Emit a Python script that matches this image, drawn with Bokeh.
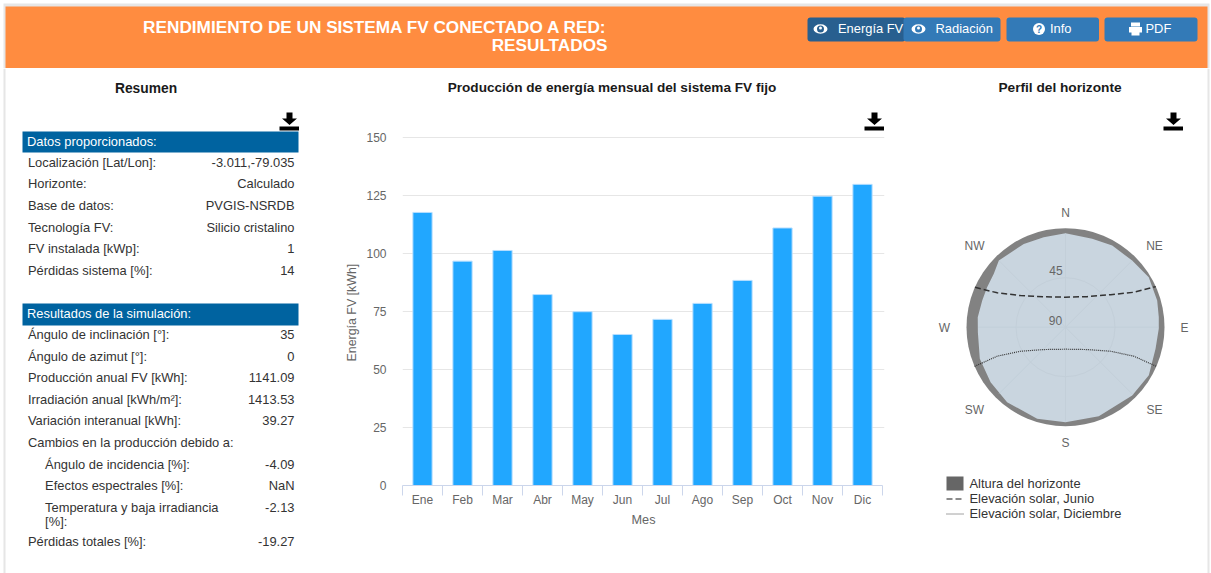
import numpy as np
from bokeh.embed import file_html
from bokeh.resources import INLINE
from bokeh.plotting import figure
from bokeh.layouts import column, row
from bokeh.models import Range1d, FixedTicker, Title
from bokeh.core.properties import value

# ---- data ----
months = ["Ene", "Feb", "Mar", "Abr", "May", "Jun", "Jul", "Ago", "Sep", "Oct", "Nov", "Dic"]
energy = [117.7, 96.7, 101.3, 82.3, 74.9, 65.1, 71.6, 78.5, 88.4, 111.0, 124.7, 129.8]
y_ticks = [0, 25, 50, 75, 100, 125, 150]

inputs_title = "Datos proporcionados:"
input_labels = ["Localización [Lat/Lon]:", "Horizonte:", "Base de datos:", "Tecnología FV:",
                "FV instalada [kWp]:", "Pérdidas sistema [%]:"]
input_values = ["-3.011,-79.035", "Calculado", "PVGIS-NSRDB", "Silicio cristalino", "1", "14"]

results_title = "Resultados de la simulación:"
result_labels = ["Ángulo de inclinación [°]:", "Ángulo de azimut [°]:", "Producción anual FV [kWh]:",
                 "Irradiación anual [kWh/m²]:", "Variación interanual [kWh]:",
                 "Cambios en la producción debido a:"]
result_values = ["35", "0", "1141.09", "1413.53", "39.27", ""]
change_labels = ["Ángulo de incidencia [%]:", "Efectos espectrales [%]:", "Temperatura y baja irradiancia"]
change_values = ["-4.09", "NaN", "-2.13"]
change_wrap = "[%]:"
total_label = "Pérdidas totales [%]:"
total_value = "-19.27"

horizon_az = [0, 16.8, 29.8, 45, 59, 73.8, 83.9, 91, 103.5, 120, 135.7, 159.5, 180, 197.2,
              217.9, 233.7, 249.8, 266.7, 276.5, 287.8, 297, 306.7, 315, 333.4, 346.4]
horizon_el = [4.5, 6.0, 4.5, 4.3, 1.7, 3.2, 4.7, 5.2, 5.8, 2.5, 3.2, 3.6, 3.6, 2.8,
              3.6, 5.5, 7.0, 10.2, 9.7, 10.5, 10.0, 8.7, 4.3, 5.3, 5.8]
june_az = [-66.2, -63.3, -54.9, -35.5, 0, 35.3, 54.3, 62.9, 65.8]
june_el = [0, 20.5, 40.0, 56.1, 62.7, 56.0, 39.4, 20.3, 0]
dec_az = [-113.3, -113.0, -118.1, -135.9, 180, 135.9, 118.1, 113.0, 113.3]
dec_el = [0, 22.5, 43.6, 61.7, 70.0, 61.7, 43.6, 22.5, 0]
compass = ["N", "NE", "E", "SE", "S", "SW", "W", "NW"]
legend_labels = ["Altura del horizonte", "Elevación solar, Junio", "Elevación solar, Diciembre"]

FONT = "Liberation Sans"
ORANGE, BLUE, BTN, BTN_ON = "#ff8c40", "#0063a0", "#337ab7", "#285f8f"
BORDER = "#e6e6e6"
BODY = 12.9


def txt(p, x, y, s, size=BODY, color="#333333", bold=False, align="left", angle=0):
    p.text(x=[x], y=[y], text=[s], text_font=value(FONT), text_font_size=f"{size}px",
           text_color=color, text_font_style="bold" if bold else "normal",
           text_align=align, text_baseline="middle", angle=angle)


def page_fig(w, h, x0, y0):
    p = figure(width=w, height=h, x_range=Range1d(x0, x0 + w), y_range=Range1d(y0 + h, y0),
               output_backend="svg", toolbar_location=None, min_border=0, frame_align=False)
    p.axis.visible = False
    p.grid.visible = False
    p.outline_line_color = None
    return p


def download_icon(p, x, fx=lambda v: v, fy=lambda v: v):
    arrow_x = [x + 7, x + 13, x + 13, x + 17.5, x + 10, x + 2.5, x + 7]
    arrow_y = [112, 112, 118, 118, 124.5, 118, 118]
    bar_x = [x, x + 19.5, x + 19.5, x]
    bar_y = [126, 126, 130, 130]
    p.patch(x=[fx(v) for v in arrow_x], y=[fy(v) for v in arrow_y], color="black", line_width=0)
    p.patch(x=[fx(v) for v in bar_x], y=[fy(v) for v in bar_y], color="black", line_width=0)


# ---- header ----
head = page_fig(1211, 68, 0, 0)
head.quad(left=[3], right=[1209], top=[3], bottom=[68], color=BORDER, line_width=0)
head.quad(left=[5], right=[1207], top=[6], bottom=[68], color=ORANGE, line_width=0)
txt(head, 607, 26.6, "RENDIMIENTO DE UN SISTEMA FV CONECTADO A RED:", 17.2, "white", True, "right")
txt(head, 607, 44.6, "RESULTADOS", 17.2, "white", True, "right")
head.quad(left=[807], right=[905], top=[17], bottom=[41], color=BTN_ON, line_width=0, border_radius=3)
head.quad(left=[903], right=[1000], top=[17], bottom=[41], color=BTN, line_width=0, border_radius=3)
head.quad(left=[1006, 1104], right=[1098.5, 1197], top=[17, 17], bottom=[41, 41], color=BTN,
          line_width=0, border_radius=3)
txt(head, 837.5, 27.8, "Energía FV", BODY, "white")
txt(head, 935, 27.8, "Radiación", BODY, "white")
txt(head, 1049.5, 27.8, "Info", BODY, "white")
txt(head, 1145, 27.8, "PDF", BODY, "white")
for cx, bg in ((820, BTN_ON), (918, BTN)):
    head.ellipse(x=[cx], y=[28.5], width=[14], height=[9.5], color="white", line_width=0)
    head.ellipse(x=[cx], y=[28.5], width=[7], height=[7], color=bg, line_width=0)
    head.ellipse(x=[cx], y=[27.5], width=[3], height=[3], color="white", line_width=0)
head.circle(x=[1038.5], y=[28.5], radius=6, color="white", line_width=0)
txt(head, 1038.5, 28.5, "?", 10, BTN, True, "center")
head.quad(left=[1130.5, 1128.5, 1131], right=[1139.5, 1141.5, 1139], top=[22, 26.5, 31.5],
          bottom=[26, 32, 35], color="white", line_width=0)

# ---- left panel ----
left = page_fig(337, 505, 0, 68)
left.quad(left=[3], right=[5], top=[68], bottom=[573], color=BORDER, line_width=0)
txt(left, 145.5, 87.5, "Resumen", 13.8, "#1a1a1a", True, "center")
download_icon(left, 279)
left.quad(left=[22, 22], right=[298, 298], top=[131, 303], bottom=[152, 325], color=BLUE, line_width=0)
txt(left, 26.5, 140.8, inputs_title, BODY, "white")
txt(left, 26.5, 312.8, results_title, BODY, "white")
in_y = 161.8
for i, (a, b) in enumerate(zip(input_labels, input_values)):
    yy = in_y + i * 21.65
    txt(left, 27.4, yy, a)
    txt(left, 294, yy, b, align="right")
res_y = 334
for i, (a, b) in enumerate(zip(result_labels, result_values)):
    yy = res_y + i * 21.6
    txt(left, 27.4, yy, a)
    txt(left, 294, yy, b, align="right")
for i, (a, b) in enumerate(zip(change_labels, change_values)):
    yy = 463.5 + i * 21.6
    txt(left, 44.6, yy, a)
    txt(left, 294, yy, b, align="right")
txt(left, 44.6, 520.5, change_wrap)
txt(left, 27.4, 540.5, total_label)
txt(left, 294, 540.5, total_value, align="right")

# ---- bar chart: its frame reaches up to the header, for its title and icon ----
PX_X, PX_Y = 40.0, 2.32
bar = figure(width=563, height=505, x_range=Range1d(0, 482 / PX_X), y_range=Range1d(0, 417 / PX_Y),
             output_backend="svg", toolbar_location=None, frame_align=False,
             min_border_left=65, min_border_right=16, min_border_top=0, min_border_bottom=88)
bar.outline_line_color = None
bar.xgrid.visible = False
bar.ygrid.ticker = FixedTicker(ticks=y_ticks)
bar.ygrid.grid_line_color = "#e6e6e6"
bar.ygrid.bounds = (0, 12)
centers = [i + 0.5 for i in range(12)]
bar.vbar(x=centers, top=energy, width=0.48, fill_color="#21a7ff", line_color="#b5deff", line_width=1)


def bx(x):
    return (x - 402) / PX_X


def by(y):
    return (485 - y) / PX_Y


txt(bar, bx(611.5), by(86.8), "Producción de energía mensual del sistema FV fijo", 13.6, "#1a1a1a", True, "center")
download_icon(bar, 864, bx, by)

xa = bar.xaxis[0]
xa.ticker = FixedTicker(ticks=centers, minor_ticks=list(range(13)))
xa.bounds = (0, 12)
xa.major_label_overrides = {c: m for c, m in zip(centers, months)}
xa.major_tick_line_color = None
xa.major_tick_in = 0
xa.major_tick_out = 0
xa.minor_tick_in = 0
xa.minor_tick_out = 10
xa.minor_tick_line_color = "#ccd6eb"
xa.axis_line_color = "#ccd6eb"
xa.major_label_standoff = -3
xa.major_label_text_font = FONT
xa.major_label_text_font_size = "12px"
xa.major_label_text_color = "#666666"
xa.axis_label = "Mes"
xa.axis_label_text_font = FONT
xa.axis_label_text_font_size = "12.7px"
xa.axis_label_text_color = "#666666"
xa.axis_label_text_font_style = "normal"
xa.axis_label_standoff = 3
ya = bar.yaxis[0]
ya.ticker = FixedTicker(ticks=y_ticks)
ya.bounds = (0, 150)
ya.axis_line_color = None
ya.major_tick_line_color = None
ya.minor_tick_line_color = None
ya.major_tick_in = 0
ya.major_tick_out = 0
ya.major_label_standoff = 16
ya.major_label_text_font = FONT
ya.major_label_text_font_size = "12px"
ya.major_label_text_color = "#666666"
bar.add_layout(Title(text="Energía FV [kWh]", align="left", offset=124, standoff=10,
                     text_font=FONT, text_font_size="12.4px", text_color="#666666",
                     text_font_style="normal"), "left")

# ---- polar chart: one data unit is one degree of elevation on the sky dome ----
CX, CY, K = 1065.0, 326.7, 99 / 90
W, H = 311, 505
pol = figure(width=W, height=H, x_range=Range1d((900 - CX) / K, (900 + W - CX) / K),
             y_range=Range1d((CY - 573) / K, (CY - 68) / K),
             output_backend="svg", toolbar_location=None, min_border=0, frame_align=False)
pol.axis.visible = False
pol.grid.visible = False
pol.outline_line_color = None


def polar(az, el):
    a = np.radians(np.asarray(az, float))
    r = 90 - np.asarray(el, float)
    return r * np.sin(a), r * np.cos(a)


def px(x):
    return (x - CX) / K


def py(y):
    return (CY - y) / K


pol.quad(left=[px(1207)], right=[px(1209)], top=[py(68)], bottom=[py(573)], color=BORDER, line_width=0)
txt(pol, px(1059.5), py(86.8), "Perfil del horizonte", 13.7, "#1a1a1a", True, "center")
download_icon(pol, 1163, px, py)

pol.circle(x=[0], y=[0], radius=90, fill_color="#828282", line_width=0)
hx, hy = polar(horizon_az, horizon_el)
pol.patch(x=hx, y=hy, fill_color="#c9d5df", line_width=0)
spoke_az = list(range(0, 360, 45))
spoke_el = np.interp(spoke_az, horizon_az + [360], horizon_el + [horizon_el[0]]) + 0.5
sx, sy = polar(spoke_az, spoke_el)
pol.segment(x0=[0] * 8, y0=[0] * 8, x1=sx, y1=sy, line_color="#c3cfd9", line_width=1)
pol.circle(x=[0], y=[0], radius=45, fill_color=None, line_color="#c3cfd9", line_width=1)
jx, jy = polar(june_az, june_el)
pol.line(jx, jy, line_color="#333333", line_width=1.5, line_dash="6 3")
dx, dy = polar(dec_az, dec_el)
pol.line(dx, dy, line_color="#333333", line_width=1.2, line_dash="1 1")

cmp_x = [1065, 1154, 1184, 1154, 1065, 974, 944, 974]
cmp_y = [212, 245, 327, 409, 442, 409, 327, 245]
for s, x, y in zip(compass, cmp_x, cmp_y):
    txt(pol, px(x), py(y), s, 12, "#666666", False, "center")
txt(pol, px(1055.5), py(270), "45", 12, "#666666", False, "center")
txt(pol, px(1055), py(319.5), "90", 12, "#666666", False, "center")

pol.quad(left=[px(946)], right=[px(963)], top=[py(476)], bottom=[py(490)], color="#666666", line_width=0)
pol.line([px(946), px(963)], [py(498.5), py(498.5)], line_color="#666666", line_width=1.5, line_dash="6 3")
pol.line([px(946), px(963)], [py(513.5), py(513.5)], line_color="#444444", line_width=1, line_dash="1 1")
for s, y in zip(legend_labels, (482.8, 498, 513)):
    txt(pol, px(969), py(y), s, BODY, "#333333")

page = column(head, row(left, bar, pol, spacing=0), spacing=0,
              styles={"position": "absolute", "left": "0px", "top": "0px"})
open("out.html", "w").write(file_html(page, INLINE))
